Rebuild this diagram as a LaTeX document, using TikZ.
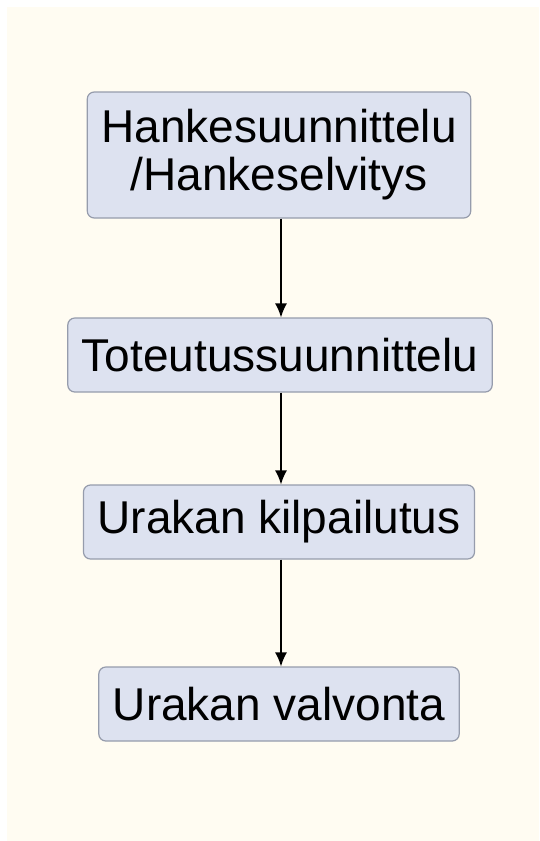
\documentclass[tikz,border=0pt]{standalone}
\usepackage{fontspec}
\setmainfont{Liberation Sans}
\usetikzlibrary{arrows.meta}
\definecolor{cream}{RGB}{255,252,242}
\definecolor{boxfill}{RGB}{221,226,240}
\definecolor{boxline}{RGB}{150,156,172}

\begin{document}
\begin{tikzpicture}[x=1pt,y=-1pt,line width=1.6pt,>={Latex[length=14pt,width=12pt]},
    phase/.style={draw=boxline,line width=1.2pt,fill=boxfill,rounded corners=7pt,
      inner xsep=14pt,minimum height=74pt,align=center,
      font=\fontsize{46}{48}\selectfont}]
  \useasboundingbox (0,0) rectangle (539,841);
  \fill[cream] (7,7) rectangle (539,841);
  \node[phase,minimum height=126pt] (suunnittelu) at (279,155) {Hankesuunnittelu\\/Hankeselvitys};
  \node[phase] (toteutus) at (280,355) {Toteutussuunnittelu};
  \node[phase] (kilpailutus) at (279,522) {Urakan kilpailutus};
  \node[phase] (valvonta) at (279,704) {Urakan valvonta};
  \draw[->] (suunnittelu.south -| 281,0) -- (toteutus.north -| 281,0);
  \draw[->] (toteutus.south -| 281,0) -- (kilpailutus.north -| 281,0);
  \draw[->] (kilpailutus.south -| 281,0) -- (valvonta.north -| 281,0);
\end{tikzpicture}
\end{document}
